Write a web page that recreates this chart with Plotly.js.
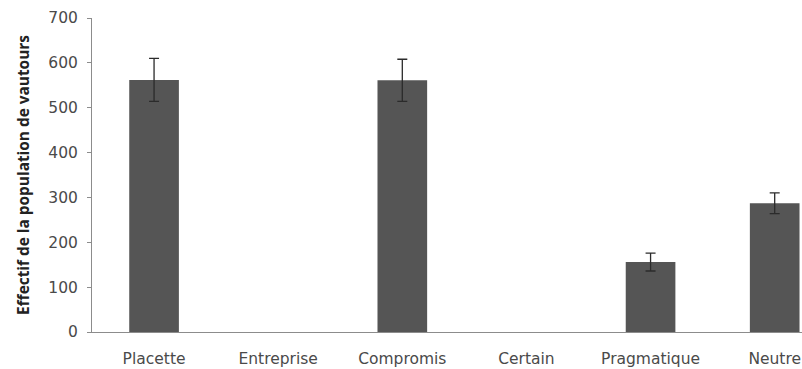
<!DOCTYPE html>
<html>
<head>
<meta charset="utf-8">
<script src="https://cdn.plot.ly/plotly-3.0.1.min.js"></script>
<style>
  html, body { margin: 0; padding: 0; background: #fff; }
  #chart { width: 802px; height: 369px; }
</style>
</head>
<body>
<div id="chart"></div>
<script>
// Vulture population by strategy
const categories = ["Placette", "Entreprise", "Compromis", "Certain", "Pragmatique", "Neutre"];
const effectif = [562, null, 561, null, 156, 287];
const erreur = [48, null, 47, null, 20, 23];

const trace = {
  type: "bar",
  x: categories,
  y: effectif,
  width: 0.4,
  marker: { color: "#555555", line: { width: 0 } },
  error_y: {
    type: "data",
    array: erreur,
    visible: true,
    color: "#2b2b2b",
    thickness: 1.3,
    width: 5
  },
  hoverinfo: "x+y"
};

const layout = {
  width: 802,
  height: 369,
  margin: { l: 92, r: 0, t: 18, b: 37 },
  paper_bgcolor: "#fff",
  plot_bgcolor: "#fff",
  showlegend: false,
  font: { family: "DejaVu Sans, sans-serif", color: "#404040" },
  xaxis: {
    range: [-0.5, 5.22],
    showline: true,
    linecolor: "#8c8c8c",
    linewidth: 1,
    ticks: "",
    showgrid: false,
    zeroline: false,
    tickfont: { size: 15.5, color: "#4a4a4a" },
    ticklabelstandoff: 12,
    fixedrange: true
  },
  yaxis: {
    range: [0, 700],
    dtick: 100,
    showline: true,
    linecolor: "#8c8c8c",
    linewidth: 1,
    ticks: "outside",
    ticklen: 4,
    tickcolor: "#8c8c8c",
    showgrid: false,
    zeroline: false,
    tickfont: { size: 15.5, color: "#4a4a4a" },
    ticklabelstandoff: 6,
    title: {
      text: "<b>Effectif de la population de vautours</b>",
      font: { size: 15.4, color: "#222", family: "Open Sans, sans-serif" },
      standoff: 14
    },
    fixedrange: true
  }
};

Plotly.newPlot("chart", [trace], layout, { displayModeBar: false, staticPlot: true });
</script>
</body>
</html>
